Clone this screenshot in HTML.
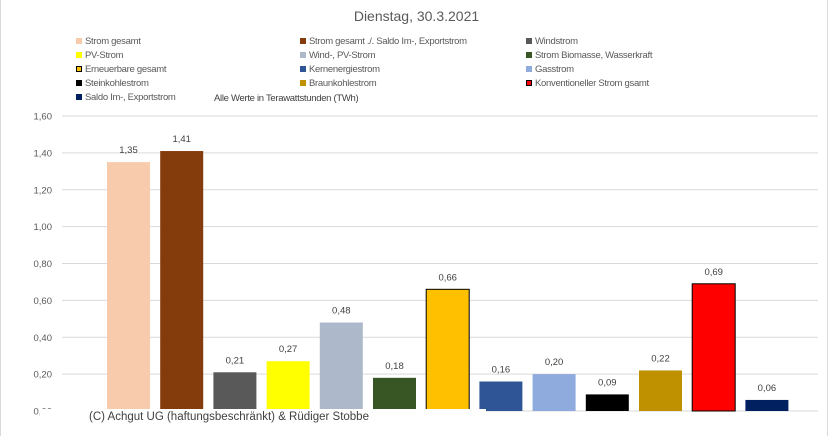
<!DOCTYPE html>
<html><head><meta charset="utf-8">
<style>
html,body{margin:0;padding:0;background:#fff;}
body{width:833px;height:437px;overflow:hidden;font-family:"Liberation Sans",sans-serif;position:relative;}
.lg{position:absolute;font-size:9.5px;color:#595959;letter-spacing:-0.3px;white-space:nowrap;}
.lg i{display:inline-block;width:6px;height:6px;margin-right:3px;vertical-align:0px;}
</style></head><body>
<div style="position:absolute;left:0;top:0;width:828px;height:436px;border-left:1px solid #d9d9d9;border-right:1px solid #d9d9d9;box-sizing:border-box"></div>
<div style="position:absolute;left:0;width:833px;top:8px;text-align:center;font-size:14px;color:#595959">Dienstag, 30.3.2021</div>
<div id="legend"></div>
<div class="lg" style="left:214px;top:93px;color:#404040">Alle Werte in Terawattstunden (TWh)</div>
<svg id="chart" width="833" height="437" style="position:absolute;left:0;top:0"></svg>
<div style="position:absolute;left:40px;top:409px;width:446px;height:22px;background:#fff;font-size:11.5px;color:#404040;padding-left:49px;padding-top:1px;box-sizing:border-box;line-height:14px">(C) Achgut UG (haftungsbeschränkt) &amp; Rüdiger Stobbe</div>
<script>
const categories=["Strom gesamt","Strom gesamt ./. Saldo Im-, Exportstrom","Windstrom","PV-Strom","Wind-, PV-Strom","Strom Biomasse, Wasserkraft","Erneuerbare gesamt","Kernenergiestrom","Gasstrom","Steinkohlestrom","Braunkohlestrom","Konventioneller Strom gsamt","Saldo Im-, Exportstrom"];
const values=[1.35,1.41,0.21,0.27,0.48,0.18,0.66,0.16,0.20,0.09,0.22,0.69,0.06];
const labels=["1,35","1,41","0,21","0,27","0,48","0,18","0,66","0,16","0,20","0,09","0,22","0,69","0,06"];
const colors=["#f8cbad","#843c0c","#595959","#ffff00","#adb9ca","#375623","#ffc000","#2f5597","#8faadc","#000000","#bf9000","#ff0000","#002060"];
const outlined=[false,false,false,false,false,false,true,false,false,false,false,true,false];
const legendLabels=["Strom gesamt","Strom gesamt ./. Saldo Im-, Exportstrom","Windstrom","PV-Strom","Wind-, PV-Strom","Strom Biomasse, Wasserkraft","Erneuerbare gesamt","Kernenergiestrom","Gasstrom","Steinkohlestrom","Braunkohlestrom","Konventioneller Strom gsamt","Saldo Im-, Exportstrom"];
const ticks=[0,0.2,0.4,0.6,0.8,1.0,1.2,1.4,1.6];
const tickLabels=["0,00","0,20","0,40","0,60","0,80","1,00","1,20","1,40","1,60"];
const NS="http://www.w3.org/2000/svg";
const svg=document.getElementById('chart');
const y0=411,y1=116,vmax=1.6;
function y(v){return y0-(v/vmax)*(y0-y1);}
function x(i){return 107+i*53.2;}
const bw=43;
ticks.forEach((t,i)=>{
 const l=document.createElementNS(NS,'line');
 
 
 l.setAttribute('x1',62);l.setAttribute('x2',818);l.setAttribute('y1',y(t));l.setAttribute('y2',y(t));
 l.setAttribute('stroke','#d9d9d9');l.setAttribute('stroke-width',1);svg.appendChild(l);
 const tx=document.createElementNS(NS,'text');
 
 
 tx.setAttribute('x',52);tx.setAttribute('y',y(t)+3.5);tx.setAttribute('text-anchor','end');
 tx.setAttribute('font-size','9.5');tx.setAttribute('fill','#595959');tx.textContent=tickLabels[i];svg.appendChild(tx);
});
values.forEach((v,i)=>{
 const r=document.createElementNS(NS,'rect');
 
 
 r.setAttribute('x',x(i));r.setAttribute('width',bw);r.setAttribute('y',y(v));r.setAttribute('height',y0-y(v));
 r.setAttribute('fill',colors[i]);
 if(outlined[i]){r.setAttribute('stroke','#000');r.setAttribute('stroke-width',1);}
 svg.appendChild(r);
 const tx=document.createElementNS(NS,'text');
 
 
 tx.setAttribute('x',x(i)+bw/2);tx.setAttribute('y',y(v)-9);tx.setAttribute('text-anchor','middle');
 tx.setAttribute('font-size','9.5');tx.setAttribute('fill','#404040');tx.textContent=labels[i];svg.appendChild(tx);
});
const lg=document.getElementById('legend');
const lx=[76,300,526],ly=[36,50,64,78,92];
legendLabels.forEach((s,i)=>{
 const d=document.createElement('div');
 
 
 d.className='lg';
 d.style.left=lx[i%3]+'px';
 d.style.top=ly[Math.floor(i/3)]+'px';
 const b=outlined[i]?'border:1px solid #000;width:4px;height:4px;':'';
 d.innerHTML='<i style="background:'+colors[i]+';'+b+'"></i>'+s;
 lg.appendChild(d);
});
</script>
</body></html>
